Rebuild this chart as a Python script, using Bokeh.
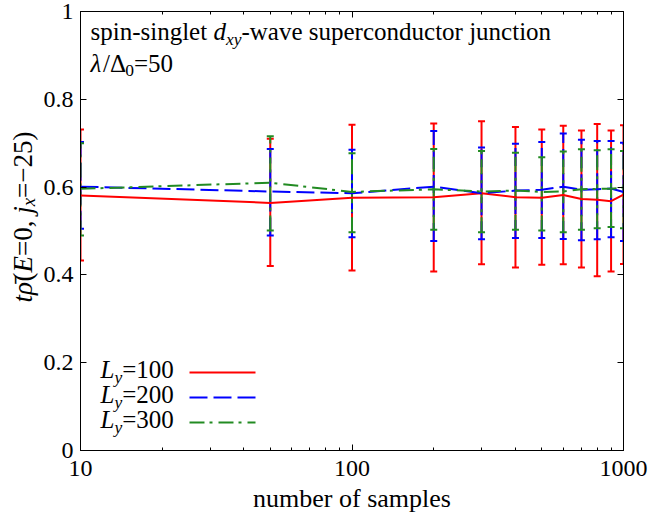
import math
from bokeh.plotting import figure
from bokeh.layouts import row
from bokeh.models import (ColumnDataSource, Whisker, TeeHead, Label, Arrow, LogAxis,
                          LinearAxis, FixedTicker, PrintfTickFormatter, Range1d)
from bokeh.embed import file_html
from bokeh.resources import INLINE

# ---------------- data ----------------
samples = [10, 50, 100, 200, 300, 400, 500, 600, 700, 800, 900, 1000]

rho_L100 = [0.581, 0.564, 0.576, 0.577, 0.586, 0.577, 0.576, 0.582, 0.573, 0.571, 0.568, 0.583]
lo_L100 = [0.433, 0.420, 0.410, 0.408, 0.424, 0.417, 0.423, 0.424, 0.417, 0.397, 0.408, 0.425]
hi_L100 = [0.731, 0.710, 0.742, 0.745, 0.750, 0.737, 0.731, 0.740, 0.729, 0.744, 0.729, 0.741]

rho_L200 = [0.601, 0.590, 0.586, 0.601, 0.586, 0.592, 0.594, 0.601, 0.594, 0.595, 0.597, 0.589]
lo_L200 = [0.505, 0.490, 0.486, 0.477, 0.481, 0.484, 0.484, 0.482, 0.479, 0.481, 0.486, 0.477]
hi_L200 = [0.703, 0.687, 0.685, 0.728, 0.690, 0.699, 0.703, 0.722, 0.708, 0.705, 0.705, 0.701]

rho_L300 = [0.596, 0.610, 0.589, 0.595, 0.590, 0.592, 0.589, 0.590, 0.595, 0.596, 0.596, 0.599]
lo_L300 = [0.490, 0.501, 0.497, 0.503, 0.497, 0.503, 0.501, 0.497, 0.503, 0.506, 0.509, 0.506]
hi_L300 = [0.700, 0.716, 0.677, 0.687, 0.682, 0.678, 0.668, 0.681, 0.686, 0.684, 0.686, 0.682]

x_ticks = [10, 100, 1000]
x_minor = [20, 30, 40, 50, 60, 70, 80, 90, 200, 300, 400, 500, 600, 700, 800, 900]
y_ticks = [0, 0.2, 0.4, 0.6, 0.8, 1]

series = [
    ("100", rho_L100, lo_L100, hi_L100, "#ff0000", "solid"),
    ("200", rho_L200, lo_L200, hi_L200, "#0000ff", "18 6"),
    ("300", rho_L300, lo_L300, hi_L300, "#228b22", "15 5 3 6"),
]

FONT = "Liberation Serif"
LEFT_W = 40
H = 515

p = figure(width=653 - LEFT_W, height=H, x_axis_type="log", x_range=(10, 1000),
           y_range=(0, 1), output_backend="svg", toolbar_location=None,
           min_border_left=78 - LEFT_W, min_border_right=30, min_border_top=11,
           min_border_bottom=65)
p.xgrid.visible = False
p.ygrid.visible = False
p.outline_line_color = "black"
p.outline_line_width = 1
p.background_fill_color = "white"
p.border_fill_color = "white"

# axes
p.xaxis.ticker = FixedTicker(ticks=x_ticks, minor_ticks=x_minor)
p.xaxis.formatter = PrintfTickFormatter(format="%d")
p.yaxis.ticker = FixedTicker(ticks=y_ticks, minor_ticks=[])
p.yaxis.formatter = PrintfTickFormatter(format="%g")
for ax in (p.xaxis[0], p.yaxis[0]):
    ax.major_tick_in = 6
    ax.major_tick_out = 0
    ax.minor_tick_in = 3
    ax.minor_tick_out = 0
    ax.major_label_text_font = FONT
    ax.major_label_text_font_size = "24px"
    ax.major_label_text_color = "black"
    ax.axis_line_color = "black"
    ax.major_tick_line_color = "black"
    ax.minor_tick_line_color = "black"
p.xaxis.major_label_standoff = 10
p.yaxis.major_label_standoff = 7
p.xaxis.axis_label = "number of samples"
p.xaxis.axis_label_text_font = FONT
p.xaxis.axis_label_text_font_size = "26px"
p.xaxis.axis_label_text_font_style = "normal"
p.xaxis.axis_label_text_color = "black"
p.xaxis.axis_label_standoff = 5

top = LogAxis(ticker=FixedTicker(ticks=x_ticks, minor_ticks=x_minor),
              major_tick_in=6, major_tick_out=0, minor_tick_in=3, minor_tick_out=0,
              major_label_text_font_size="1px", major_label_text_alpha=0.0,
              major_label_standoff=0, axis_line_color="black")
right = LinearAxis(ticker=FixedTicker(ticks=y_ticks, minor_ticks=[]),
                   major_tick_in=6, major_tick_out=0, minor_tick_in=0, minor_tick_out=0,
                   major_label_text_font_size="1px", major_label_text_alpha=0.0,
                   major_label_standoff=0, axis_line_color="black")
p.add_layout(top, "above")
p.add_layout(right, "right")

# data lines and error bars
for name, rho, lo, hi, color, dash in series:
    src = ColumnDataSource(dict(x=samples, y=rho, lo=lo, hi=hi))
    p.line("x", "y", source=src, line_color=color, line_width=2, line_dash=dash)
    w = Whisker(base="x", lower="lo", upper="hi", source=src, dimension="height",
                line_color=color, line_width=2, line_dash=dash,
                upper_head=TeeHead(size=7, line_color=color, line_width=2),
                lower_head=TeeHead(size=7, line_color=color, line_width=2))
    p.add_layout(w)

# a narrow figure on the left that only carries the rotated y-axis title
lf = figure(width=LEFT_W, height=H, x_range=Range1d(0, LEFT_W), y_range=Range1d(0, H),
            x_axis_location=None, y_axis_location=None,
            output_backend="svg", toolbar_location=None, min_border=0,
            min_border_left=0, min_border_right=0, min_border_top=0, min_border_bottom=0)
lf.outline_line_color = None
lf.xgrid.visible = False
lf.ygrid.visible = False
lf.background_fill_color = "white"
lf.border_fill_color = "white"
LF_FRAME_BOTTOM = 466  # canvas row of the narrow figure's frame bottom

# ------------- composed texts -------------
W_REG = {' ': 250, '(': 333, ')': 333, ',': 250, '-': 333, '.': 250, '/': 278, '=': 564,
         '\u2212': 564, 'a': 444, 'b': 500, 'c': 444, 'd': 500, 'e': 444, 'f': 333, 'g': 500,
         'i': 278, 'j': 278, 'l': 278, 'm': 778, 'n': 500, 'o': 500, 'p': 500, 'r': 333,
         's': 389, 't': 278, 'u': 500, 'v': 500, 'w': 722, 'x': 500, 'y': 500, 'L': 611,
         'E': 611, '\u0394': 612, '\u03bb': 500}
W_IT = {'d': 500, 'x': 444, 'y': 444, 'L': 556, 'E': 611, 't': 278, 'j': 278,
        '\u03c1': 500, '\u03bb': 500, '\u0304': 0}
BASE_FIX = 9  # Label puts "alphabetic" text a little lower than the given point


def text_width(txt, italic, size):
    table = W_IT if italic else W_REG
    return sum(table.get(c, W_REG.get(c, 500)) for c in txt) * size / 1000.0


def compose(fig, pieces, x0, y0, size, rotated=False, sub_drop=0.28):
    pos = 0.0
    for txt, italic, sub in pieces:
        s = size * (0.7 if sub else 1.0)
        shift = size * sub_drop if sub else 0.0
        if rotated:
            lab = Label(x=x0 + shift - BASE_FIX, y=y0 + pos, angle=math.pi / 2)
        else:
            lab = Label(x=x0 + pos, y=y0 - shift + BASE_FIX)
        lab.x_units = "screen"
        lab.y_units = "screen"
        lab.text = txt
        lab.text_font = FONT
        lab.text_font_size = f"{s:.1f}px"
        lab.text_font_style = "italic" if italic else "normal"
        lab.text_color = "black"
        lab.text_baseline = "alphabetic"
        lab.text_align = "left"
        fig.add_layout(lab)
        pos += text_width(txt, italic, s)


TS = 25
compose(p, [("spin-singlet ", False, False), ("d", True, False), ("xy", True, True),
            ("-wave superconductor junction", False, False)], 10, 410, TS)
compose(p, [("\u03bb", True, False), ("/\u0394", False, False), ("0", False, True),
            ("=50", False, False)], 10, 378, TS)

# y axis title (rotated, in the narrow left figure), starting at canvas row 318
compose(lf, [("t\u03c1\u0304", True, False), ("(", False, False), ("E", True, False),
             ("=0, ", False, False), ("j", True, False), ("x", True, True),
             ("=\u221225)", False, False)], 31, LF_FRAME_BOTTOM - 318, 27,
        rotated=True, sub_drop=0.22)

# legend
legend_rows = [(72, 78), (47, 53), (22, 28)]
for (name, rho, lo, hi, color, dash), (yb, yl) in zip(series, legend_rows):
    compose(p, [("L", True, False), ("y", True, True), ("=" + name, False, False)], 20, yb, TS)
    arr = Arrow(x_start=109, y_start=yl, x_end=175, y_end=yl,
                start_units="screen", end_units="screen", end=None,
                line_color=color, line_width=2, line_dash=dash)
    p.add_layout(arr)

layout = row(lf, p, spacing=0)
open("out.html", "w").write(file_html(layout, INLINE))
